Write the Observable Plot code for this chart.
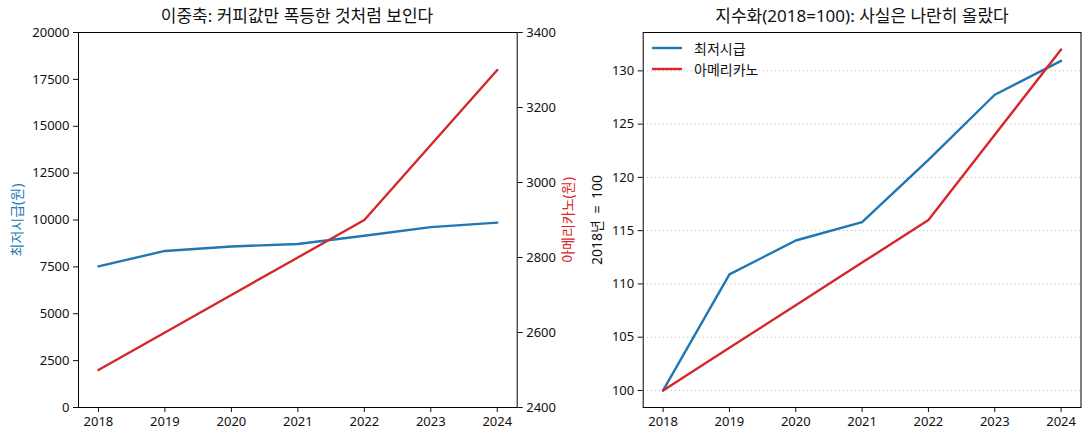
<!DOCTYPE html>
<html>
<head>
<meta charset="utf-8">
<script src="https://cdn.jsdelivr.net/npm/d3@7"></script>
<script src="https://cdn.jsdelivr.net/npm/@observablehq/plot@0.6"></script>
<style>
  html, body { margin: 0; padding: 0; background: #fff; }
  #wrap { position: relative; width: 1089px; height: 440px; overflow: hidden;
          font-family: 'Noto Sans', 'Noto Sans CJK KR', sans-serif; color: #111; }
  #wrap svg { position: absolute; top: 0; background: transparent; }
  .title { position: absolute; top: 4px; font-size: 17px; line-height: 24px; white-space: nowrap; transform: translateX(-50%); font-family: 'Noto Sans', 'Noto Sans CJK KR', sans-serif; }
  .ylab { position: absolute; font-size: 14px; white-space: nowrap; transform: translate(-50%, -50%) rotate(-90deg); }
  .legend { position: absolute; left: 652px; top: 37px; font-size: 14px; }
  .legend div { display: flex; align-items: center; height: 21px; }
  .legend svg { position: static !important; margin-right: 12px; }
</style>
</head>
<body>
<div id="wrap"></div>
<script>
const years = [2018, 2019, 2020, 2021, 2022, 2023, 2024];
const minWage = [7530, 8350, 8590, 8720, 9160, 9620, 9860];
const americano = [2500, 2600, 2700, 2800, 2900, 3100, 3300];
const leftTicks = [0, 2500, 5000, 7500, 10000, 12500, 15000, 17500, 20000];
const rightTicks = [2400, 2600, 2800, 3000, 3200, 3400];
const indexTicks = [100, 105, 110, 115, 120, 125, 130];
const seriesNames = ["최저시급", "아메리카노"];
const colors = ["#1f77b4", "#d62728"];

const minIdx = minWage.map(v => v / minWage[0] * 100);
const ameIdx = americano.map(v => v / americano[0] * 100);

const wageData = years.map((y, i) => ({year: y, v: minWage[i]}));
const ameData = years.map((y, i) => ({year: y, v: americano[i]}));
const idxData = years.flatMap((y, i) => [
  {year: y, v: minIdx[i], s: seriesNames[0]},
  {year: y, v: ameIdx[i], s: seriesNames[1]}
]);

const font = {fontFamily: "'Noto Sans', 'Noto Sans CJK KR', sans-serif", fontSize: "13px", color: "#111", background: "transparent", overflow: "visible"};
const xDomain = [2017.7, 2024.3];
const wrap = document.getElementById("wrap");

function place(svg, left) { svg.style.left = left + "px"; wrap.appendChild(svg); }

// Left panel, left axis (min wage)
const L = {width: 545, height: 440, marginLeft: 78, marginRight: 28.3, marginTop: 32, marginBottom: 33};
place(Plot.plot({
  ...L, style: font,
  x: {domain: xDomain, ticks: years, tickFormat: d => String(d), tickSize: 5, tickPadding: 4, label: null},
  y: {domain: [0, 20000], ticks: leftTicks, tickFormat: d => String(d), tickSize: 5, tickPadding: 4, label: null},
  marks: [
    Plot.line(wageData, {x: "year", y: "v", stroke: colors[0], strokeWidth: 2.4}),
    Plot.frame({stroke: "#000", strokeWidth: 1})
  ]
}), 0);

// Left panel, right axis (americano)
place(Plot.plot({
  ...L, style: font,
  x: {domain: xDomain, axis: null},
  y: {domain: [2400, 3400], axis: "right", ticks: rightTicks, tickFormat: d => String(d), tickSize: 5, tickPadding: 4, label: null},
  marks: [
    Plot.line(ameData, {x: "year", y: "v", stroke: colors[1], strokeWidth: 2.4})
  ]
}), 0);

// Right panel (indexed)
place(Plot.plot({
  width: 544, height: 440, marginLeft: 97.7, marginRight: 8.5, marginTop: 32, marginBottom: 33,
  style: font,
  x: {domain: xDomain, ticks: years, tickFormat: d => String(d), tickSize: 5, tickPadding: 4, label: null},
  y: {domain: [98.4, 133.6], ticks: indexTicks, tickFormat: d => String(d), tickSize: 5, tickPadding: 4, label: null},
  color: {domain: seriesNames, range: colors},
  marks: [
    Plot.ruleY(indexTicks, {stroke: "#bbb", strokeWidth: 0.8, strokeDasharray: "1.5,2.5"}),
    Plot.line(idxData, {x: "year", y: "v", z: "s", stroke: "s", strokeWidth: 2.4}),
    Plot.frame({stroke: "#000", strokeWidth: 1})
  ]
}), 545);

// Titles and axis labels
function addDiv(cls, text, style) {
  const d = document.createElement("div");
  d.className = cls; d.textContent = text;
  Object.assign(d.style, style);
  wrap.appendChild(d);
  return d;
}
addDiv("title", "이중축: 커피값만 폭등한 것처럼 보인다", {left: "297px"});
addDiv("title", "지수화(2018=100): 사실은 나란히 올랐다", {left: "862px"});
addDiv("ylab", "최저시급(원)", {left: "16px", top: "220px", color: colors[0]});
addDiv("ylab", "아메리카노(원)", {left: "567px", top: "220px", color: colors[1]});
addDiv("ylab", "2018년 = 100", {left: "596px", top: "220px", color: "#111", wordSpacing: "3px"});

// Legend
const leg = document.createElement("div");
leg.className = "legend";
seriesNames.forEach((n, i) => {
  const row = document.createElement("div");
  row.innerHTML = `<svg width="30" height="4"><line x1="0" y1="2" x2="30" y2="2" stroke="${colors[i]}" stroke-width="2.4"/></svg><span>${n}</span>`;
  leg.appendChild(row);
});
wrap.appendChild(leg);
</script>
</body>
</html>
